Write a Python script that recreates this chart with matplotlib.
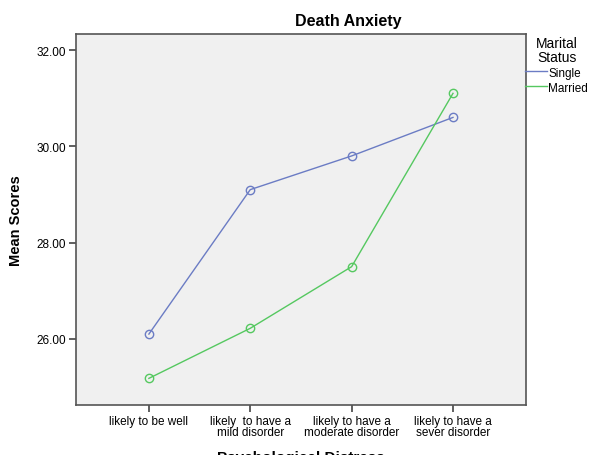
import matplotlib
matplotlib.use("Agg")
import matplotlib.pyplot as plt
import numpy as np

plt.rcParams['font.family'] = ['Liberation Sans', 'DejaVu Sans']

categories = ["likely to be well", "likely  to have a\nmild disorder",
              "likely to have a\nmoderate disorder", "likely to have a\nsever disorder"]
single = [26.1, 29.1, 29.8, 30.6]
married = [25.18, 26.22, 27.5, 31.1]
y_ticks = [26, 28, 30, 32]

fig = plt.figure(figsize=(5.93, 4.56), dpi=100)
ax = fig.add_axes([0.128, 0.110, 0.759, 0.813])
ax.set_facecolor("#f0f0f0")

x = np.arange(len(categories))
ax.plot(x, single, color="#6b7cc4", lw=1.0, marker="o", ms=6, mfc="none",
        mec="#6b7cc4", mew=1.0, label="Single")
ax.plot(x, married, color="#55c860", lw=1.0, marker="o", ms=6, mfc="none",
        mec="#55c860", mew=1.0, label="Married")

ax.set_xlim(-0.72, 3.72)
ax.set_ylim(24.63, 32.33)
ax.set_xticks(x)
ax.set_xticklabels(categories, fontsize=8.5, linespacing=0.9)
ax.set_yticks(y_ticks)
ax.set_yticklabels(["%.2f" % v for v in y_ticks], fontsize=8.5)
ax.tick_params(direction="out", length=5, width=1.2, color="#444444", pad=2)
for s in ax.spines.values():
    s.set_color("#555555")
    s.set_linewidth(1.2)

ax.set_ylabel("Mean Scores", fontsize=10.5, fontweight="bold", labelpad=10)
ax.set_xlabel("Psychological Distress", fontsize=11, fontweight="bold", labelpad=9)
fig.text(0.587, 0.952, "Death Anxiety", fontsize=11.5, fontweight="bold",
         ha="center", va="center")

leg = ax.legend(loc="upper left", bbox_to_anchor=(0.884, 0.921),
                bbox_transform=fig.transFigure, frameon=False,
                title="Marital\nStatus", fontsize=8.5, title_fontsize=10,
                handlelength=1.85, handletextpad=0.1, labelspacing=0.25,
                borderpad=0.1, borderaxespad=0, markerscale=0)
for h in leg.legend_handles:
    h.set_marker("")
leg.get_title().set_multialignment("center")
leg.get_title().set_linespacing(0.95)

fig.savefig("out.png", dpi=100)
